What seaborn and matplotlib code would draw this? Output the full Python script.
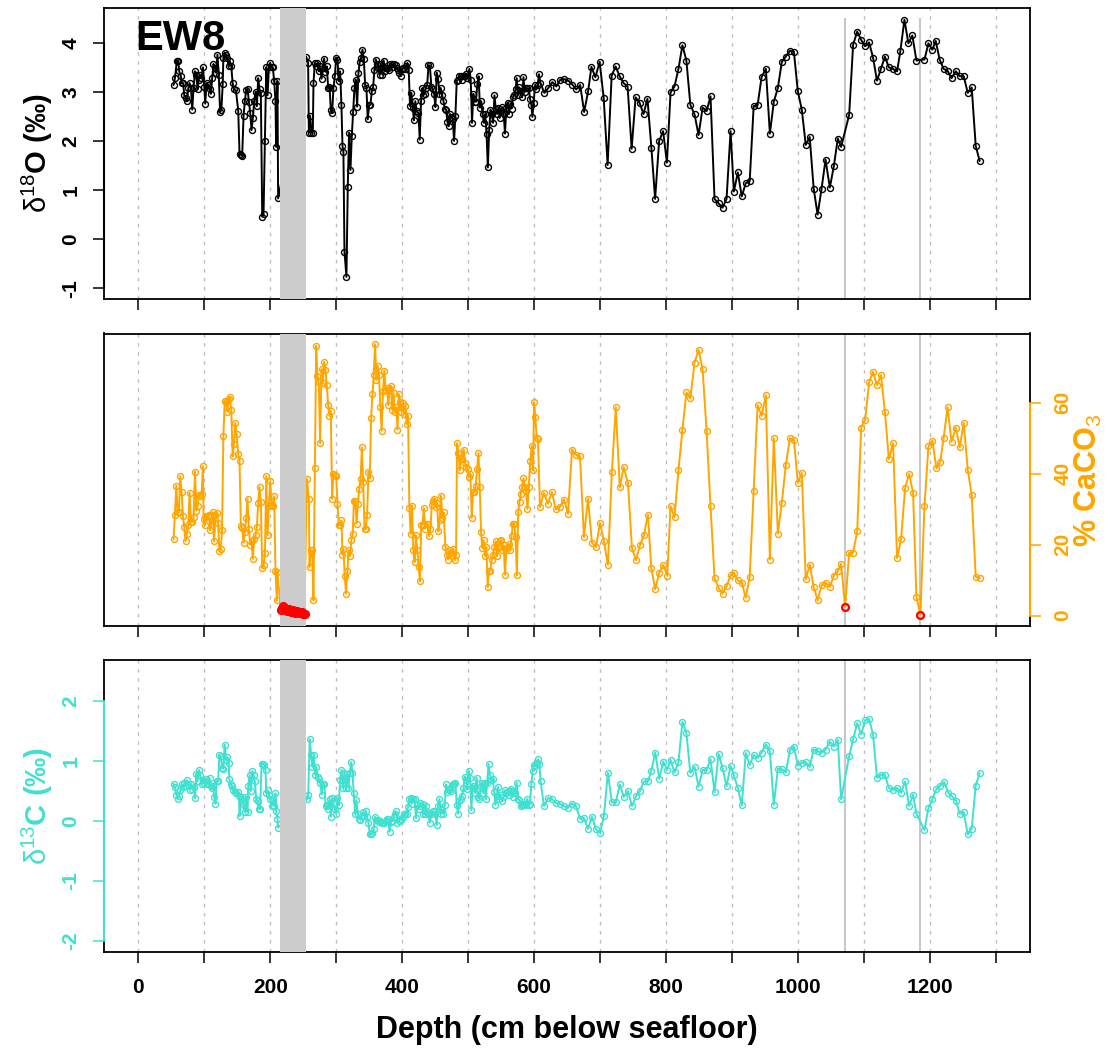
import matplotlib
matplotlib.use("Agg")
import matplotlib.pyplot as plt
import numpy as np
import seaborn as sns

# ---------------- data: core EW8 ----------------
d18o_depth = [
    53.5, 55.5, 58.6, 60.6, 62, 64.6, 65.7, 68, 69.7, 72.2, 73.7, 75.8, 77.8, 79.8, 81.8, 83.8,
    86, 88, 90, 91.4, 93.4, 95.4, 98, 100, 101.5, 103.5, 106, 108, 110, 112, 114, 116, 118, 120,
    122, 124, 126, 128, 129, 131, 133, 135, 137, 139, 141, 143, 145, 148, 151.5, 153.5, 155.5,
    157.5, 159.6, 161.6, 163.6, 165.6, 167.7, 169.7, 171.7, 173.7, 175.7, 177.8, 179.8, 181.8,
    183.8, 185.8, 187.9, 189.9, 192, 194, 196, 198, 200, 202, 204, 206, 208, 209, 211, 212,
    254.5, 257.5, 258.6, 260.6, 262.6, 264.6, 265.6, 267.7, 269.7, 271.7, 273.7, 275.7, 277.8,
    279.8, 281.8, 283.8, 285.8, 287.9, 289.9, 291.9, 293.9, 295.9, 298, 300, 302, 304, 306, 308,
    309.6, 311, 312.6, 315.6, 317.6, 319.6, 321.7, 323.7, 325.7, 327.7, 329.7, 331.8, 333.8,
    335.8, 337.8, 339.9, 341.9, 343.9, 345.9, 347.9, 350, 352, 354, 356, 358, 360, 362, 364, 366,
    368, 370, 372, 374, 376, 378, 380, 382, 384, 386, 388, 390, 392, 394, 396, 398, 400, 402, 404,
    406, 408, 410, 412, 414, 416, 418, 420, 422, 424.7, 426.7, 428.7, 430.8, 432, 434, 436, 438,
    440, 442, 444.4, 446.5, 448.5, 450.5, 452.5, 454.5, 456.6, 458.6, 460.6, 462.6, 464.7, 466.7,
    468.7, 470.7, 472.7, 474.8, 476.8, 478.8, 480.8, 482.8, 484.8, 486.9, 489, 491, 493, 495, 497,
    499, 502, 504, 506, 508, 510, 512, 514, 516, 518, 520, 522, 524, 526, 528, 530, 532, 534, 536,
    538, 540, 542, 544, 546, 548, 550, 552, 554, 556, 558, 560, 562, 564, 566, 568, 570, 572,
    573.7, 575.7, 577.8, 580, 582, 584, 586, 588, 590, 592, 594, 596, 597.5, 599.5, 601.5, 603.6,
    605.6, 607.6, 609.6, 615.7, 621.7, 627.8, 633.8, 639.9, 646, 652, 658, 664, 670, 676, 682,
    687, 693, 699.5, 705.6, 711.6, 717.7, 723.7, 729.8, 735.8, 741.9, 748, 754, 760, 766, 772,
    778, 783.6, 789.7, 795.7, 801.5, 807, 813, 819, 825, 831, 837, 843.4, 849.5, 855.6, 861.7,
    867.6, 873.7, 879.8, 885.8, 891.9, 898, 903, 909, 915, 921, 927, 933, 939, 945, 951.5, 957.6,
    963.6, 969.7, 975.7, 981.8, 988, 994, 1000, 1006, 1012, 1018, 1024, 1030, 1036, 1042, 1048.5,
    1054.5, 1060.6, 1065.6, 1077.8, 1083.8, 1090, 1096, 1102, 1108, 1114, 1120, 1126, 1132, 1138,
    1144, 1150.5, 1155.5, 1161.6, 1167.6, 1173.6, 1179.8, 1192, 1198, 1204, 1209, 1215, 1221,
    1227, 1233, 1239.5, 1245.4, 1251.5, 1257.6, 1263.6, 1269.7, 1275.7,
]
d18o = [
    3.14, 3.28, 3.64, 3.64, 3.42, 3.32, 3.18, 3.18, 2.93, 2.88, 2.81, 3.07, 3.18, 3.08, 2.64, 3.08,
    3.42, 3.35, 3.05, 3.25, 3.35, 3.28, 3.50, 3.11, 2.76, 3.18, 3.15, 3.05, 2.96, 3.28, 3.57, 3.49,
    3.39, 3.76, 3.35, 2.59, 2.64, 3.16, 3.70, 3.80, 3.76, 3.69, 3.52, 3.62, 3.52, 3.18, 3.05, 3.03,
    2.62, 1.73, 1.72, 1.70, 2.51, 2.82, 3.03, 3.06, 2.80, 2.57, 2.22, 2.46, 2.82, 3.00, 2.71, 3.28,
    3.05, 2.98, 0.46, 0.51, 1.99, 3.50, 2.93, 3.50, 3.59, 3.50, 3.50, 3.22, 2.82, 1.88, 3.22, 0.83,
    3.72, 3.59, 2.17, 2.51, 2.17, 2.17, 3.18, 3.59, 3.52, 3.59, 3.42, 3.52, 3.27, 3.49, 3.68, 3.41,
    3.52, 3.08, 3.11, 2.64, 2.57, 3.08, 3.32, 3.70, 3.66, 3.22, 3.42, 2.73, 1.90, 1.78, -0.26,
    -0.77, 1.07, 2.17, 1.41, 2.10, 2.59, 3.07, 3.25, 2.70, 3.39, 3.61, 3.70, 3.86, 3.68, 3.15,
    3.08, 2.44, 2.73, 2.74, 3.01, 3.09, 3.45, 3.66, 3.57, 3.49, 3.35, 3.57, 3.35, 3.64, 3.42, 3.49,
    3.49, 3.45, 3.57, 3.57, 3.50, 3.57, 3.54, 3.49, 3.45, 3.39, 3.32, 3.47, 3.49, 3.47, 3.52, 3.59,
    3.45, 2.71, 2.98, 2.68, 2.42, 2.81, 2.61, 2.57, 2.03, 2.81, 3.08, 2.93, 2.96, 3.08, 3.14, 3.54,
    3.54, 3.11, 3.05, 2.96, 2.69, 3.39, 3.27, 2.96, 3.08, 2.93, 2.82, 2.66, 2.64, 2.39, 2.30, 2.55,
    2.49, 2.44, 2.00, 2.51, 3.22, 3.25, 3.32, 3.32, 3.25, 3.32, 3.32, 3.36, 3.28, 3.47, 3.25, 2.37,
    2.96, 2.80, 2.80, 3.16, 3.32, 2.68, 2.81, 2.55, 2.37, 2.55, 2.15, 1.46, 2.22, 2.64, 2.54, 2.37,
    2.93, 2.66, 2.55, 2.68, 2.47, 2.61, 2.69, 2.55, 2.15, 2.68, 2.78, 2.55, 2.76, 2.66, 2.89, 2.93,
    3.05, 3.28, 2.93, 3.09, 3.01, 2.89, 3.30, 3.00, 3.08, 3.07, 3.07, 2.86, 2.74, 2.49, 2.78, 3.14,
    3.05, 3.14, 3.36, 3.18, 2.98, 3.08, 3.20, 3.11, 3.25, 3.26, 3.23, 3.15, 3.05, 3.14, 2.59, 3.01,
    3.51, 3.30, 3.61, 2.88, 1.51, 3.33, 3.52, 3.32, 3.18, 3.11, 1.84, 2.89, 2.78, 2.55, 2.86, 1.85,
    0.82, 2.00, 2.20, 1.56, 2.99, 3.11, 3.47, 3.95, 3.64, 2.74, 2.54, 2.12, 2.68, 2.61, 2.91, 0.82,
    0.73, 0.64, 0.82, 2.20, 0.97, 1.36, 0.87, 1.14, 1.18, 2.71, 2.73, 3.30, 3.47, 2.15, 2.80, 3.08,
    3.61, 3.72, 3.84, 3.82, 3.01, 2.64, 1.92, 2.08, 1.03, 0.50, 1.03, 1.62, 1.05, 1.48, 2.05, 1.88,
    2.53, 3.96, 4.23, 4.06, 3.93, 4.01, 3.70, 3.23, 3.47, 3.72, 3.50, 3.47, 3.42, 3.84, 4.47, 3.99,
    4.15, 3.64, 3.66, 3.99, 3.86, 4.04, 3.66, 3.47, 3.43, 3.28, 3.42, 3.32, 3.32, 2.98, 3.09, 1.90,
    1.59,
]

caco3_depth = [
    53.5, 55.5, 57.6, 59.6, 61.6, 63.6, 65.7, 67.7, 69.7, 71.7, 73.7, 75.8, 77.8, 79.8, 81.8, 83.8,
    86, 88, 90, 92, 94, 96, 98, 99, 101, 103, 105, 107, 109, 111, 113, 115, 117, 119, 121, 123,
    125, 127, 129, 131, 133, 135, 137, 139, 141, 143, 145, 147, 149, 151.5, 153.5, 155.5, 157.5,
    159.6, 161.6, 163.6, 165.6, 167.7, 169.7, 171.7, 173.7, 175.7, 177.8, 179.8, 181.8, 183.8,
    185.8, 187.9, 189.9, 192, 194, 196, 198, 200, 202, 204, 206, 208, 210, 211,
    216, 218, 220, 222, 224, 226, 228, 230, 232, 234, 236, 238, 240, 242, 244, 246, 248, 250, 252,
    255.5, 258.6, 259.6, 261.6, 263.6, 265.6, 267.7, 269.7, 271.7, 273.7, 275.7, 277.8, 279.8,
    281.8, 283.8, 285.8, 287.9, 289.9, 291.9, 293.9, 295.9, 298, 300, 302, 304, 306, 308, 309.6,
    311, 313, 315, 317, 319, 321, 323, 325, 327, 329, 331, 333, 335, 337, 339, 341, 343, 345, 347,
    349, 351, 353, 355, 357, 359, 361, 363, 365, 367, 369, 371, 373, 375, 377, 379, 381, 383, 385,
    387, 389, 391, 393, 395, 397, 399, 401, 403, 405, 407, 409, 411, 413, 415, 417, 419, 421, 423,
    425, 427, 429, 431, 433, 435, 437, 439, 441, 443, 445, 447, 449, 451, 453, 455, 457, 459, 461,
    463, 465.6, 467.7, 469.7, 471.7, 473.7, 475.8, 477.8, 479.8, 481.8, 483.3, 485.4, 487.4, 489.4,
    491.4, 493.4, 495.5, 497.5, 499.5, 501.5, 503.5, 505.6, 507.6, 509.6, 511.6, 513.6, 515.7,
    517.7, 519.7, 521.7, 523.7, 525.8, 527.8, 529.8, 531.8, 533.8, 535.9, 537.9, 540, 542, 544,
    546, 548, 550, 552, 554, 556, 558, 560, 562, 564, 566, 568, 570, 572, 574, 576, 578, 580, 582,
    584, 586, 588, 590, 592, 594.4, 596.5, 598.5, 600, 602, 604, 606, 609, 615, 621, 627, 633, 639,
    645.5, 651.5, 657.6, 663.6, 669.7, 675.7, 681.8, 687.9, 694, 700, 706, 712, 718, 724, 730, 736,
    742.4, 748.5, 754.5, 760.6, 766.6, 772.7, 777.8, 783.8, 789.9, 796, 802, 807, 813, 819, 825,
    831, 837, 843.4, 849.5, 855.6, 861.6, 867.6, 873.7, 879.8, 885.8, 891.9, 898, 903, 909, 915,
    921, 927, 933, 939, 945, 951.5, 957.6, 963.6, 969.7, 975.7, 981.8, 988, 994, 1000, 1006, 1012,
    1018, 1024, 1030, 1036, 1042, 1048.5, 1054.5, 1060.6, 1065.6, 1071.7, 1077.8, 1083.8, 1090,
    1096, 1102, 1108, 1114, 1120, 1126, 1132, 1138, 1144.4, 1150.5, 1156.5, 1162.6, 1168.7,
    1174.7, 1179.8, 1185.8, 1192, 1198, 1204, 1210, 1216, 1221, 1227, 1233, 1239.4, 1245.4,
    1251.5, 1257.6, 1263.6, 1269.7, 1275.7,
]
caco3 = [
    21.5, 28.4, 36.6, 29.3, 29.1, 39.3, 34.8, 28.0, 24.9, 20.9, 23.1, 25.6, 34.6, 26.5, 26.3, 27.7,
    40.6, 29.6, 31.0, 34.0, 33.8, 34.3, 42.1, 27.1, 25.4, 28.2, 28.0, 28.4, 24.0, 26.8, 29.1, 20.9,
    28.4, 29.0, 26.1, 18.1, 18.8, 24.0, 50.5, 60.5, 60.1, 57.5, 61.0, 61.5, 58.0, 44.9, 48.4, 54.3,
    51.2, 45.5, 43.7, 25.2, 24.6, 20.5, 23.5, 27.5, 32.9, 24.3, 20.0, 20.9, 16.0, 21.6, 22.6, 24.9,
    31.8, 36.2, 32.0, 13.4, 14.3, 17.7, 39.3, 22.6, 31.0, 37.8, 31.2, 31.0, 33.6, 12.5, 4.3, 12.3,
    1.5, 2.0, 2.6, 2.1, 1.6, 1.3, 1.9, 1.2, 1.0, 1.6, 1.1, 0.8, 1.4, 0.9, 0.6, 0.7, 1.0, 0.5, 0.4,
    38.5, 32.9, 13.7, 18.4, 18.4, 4.3, 41.5, 76.0, 67.6, 65.7, 48.6, 69.4, 65.5, 71.5, 69.3, 64.9,
    59.3, 56.3, 57.7, 32.9, 39.9, 39.5, 39.3, 31.5, 25.4, 25.6, 26.8, 17.2, 18.8, 11.2, 6.2, 12.7,
    18.4, 16.8, 21.2, 23.1, 32.4, 32.4, 25.9, 31.5, 35.7, 38.5, 47.4, 37.6, 24.3, 24.3, 28.4, 40.6,
    38.7, 55.6, 62.4, 67.8, 76.5, 66.4, 70.4, 67.8, 58.7, 52.1, 63.4, 69.0, 63.6, 64.0, 59.3, 63.8,
    64.8, 58.0, 62.7, 57.3, 58.7, 52.4, 62.4, 60.3, 57.5, 59.9, 56.8, 59.0, 54.0, 56.3, 30.3, 23.1,
    31.0, 18.4, 15.1, 22.6, 18.4, 13.7, 9.7, 25.6, 25.6, 30.3, 24.5, 25.9, 25.9, 22.4, 24.5, 31.2,
    32.4, 32.9, 30.6, 31.8, 23.7, 26.8, 33.8, 27.5, 29.1, 19.3, 17.2, 15.8, 18.4, 17.7, 17.0, 18.8,
    15.6, 17.2, 48.6, 45.8, 40.9, 44.3, 44.1, 46.8, 43.0, 41.8, 41.3, 39.0, 39.9, 27.5, 34.8, 34.8,
    36.6, 41.3, 45.8, 36.2, 23.5, 19.0, 21.2, 16.8, 19.3, 8.1, 12.5, 12.7, 15.6, 17.2, 19.3, 20.9,
    16.8, 19.0, 20.9, 21.2, 18.4, 19.8, 11.5, 18.4, 19.3, 20.2, 18.4, 22.4, 25.9, 25.9, 22.1, 11.3,
    29.1, 32.0, 34.3, 36.2, 38.7, 36.2, 35.0, 30.1, 36.2, 43.7, 47.7, 40.9, 60.1, 56.1, 50.0, 49.8,
    30.6, 34.6, 31.5, 34.8, 29.9, 30.6, 32.7, 28.7, 46.8, 45.3, 44.9, 22.1, 32.9, 20.5, 19.3, 26.1,
    20.9, 14.3, 40.4, 58.7, 36.2, 41.8, 37.4, 19.0, 15.6, 19.8, 22.6, 28.4, 13.4, 7.4, 12.1, 14.3,
    11.2, 30.8, 27.7, 40.9, 52.4, 62.9, 61.2, 71.3, 74.9, 69.4, 52.1, 30.8, 10.6, 7.8, 6.2, 8.3,
    11.3, 12.1, 9.9, 9.3, 5.0, 10.9, 35.2, 59.3, 56.3, 62.1, 15.8, 50.0, 23.1, 31.8, 42.5, 50.0,
    49.6, 37.4, 40.2, 10.2, 14.3, 8.1, 4.3, 8.5, 9.3, 8.1, 11.2, 12.5, 14.6, 2.4, 17.7, 17.7, 23.7,
    53.0, 55.2, 65.7, 68.7, 64.9, 67.8, 57.5, 44.1, 48.6, 16.2, 21.5, 35.9, 39.9, 34.6, 5.2, 0.3,
    30.8, 47.7, 49.3, 41.5, 43.4, 50.0, 58.7, 49.0, 53.0, 47.4, 54.3, 41.1, 34.0, 10.9, 10.6,
]

d13c_depth = [
    53.5, 55.5, 57.6, 59.6, 61.6, 63.6, 65.7, 67.7, 69.7, 71.7, 73.7, 75.8, 77.8, 79.8, 81.8, 83.8,
    86, 88, 90, 92, 94, 96, 98, 100, 102, 104, 106, 108, 110, 112, 114, 115, 117, 119, 121, 123,
    125, 127, 129, 131, 133, 135, 137, 138, 140, 142, 144, 146, 148, 150.5, 152.5, 153.5, 155.5,
    157.5, 159.6, 161.6, 163.6, 165.6, 166.7, 168.7, 170.7, 172.7, 174.7, 176.8, 178.8, 180.8,
    182.8, 184.8, 186.9, 188.9, 190.9, 192.9, 194, 196, 198, 200, 202, 204, 206, 208, 209, 211, 212,
    255.5, 257.6, 260, 262, 264, 266, 268, 270, 272, 274, 276, 278, 280, 282, 284, 286, 288, 290,
    292, 294, 296, 298, 300, 302, 304, 306, 308, 310, 312.6, 314.6, 316.6, 318.7, 320.7, 322.7,
    324.7, 326.7, 328.8, 330.8, 332.8, 334.8, 336.8, 338.8, 340.9, 342.9, 344.9, 346.9, 348.9, 351,
    353, 355, 357, 359, 361, 363, 365, 367, 369, 371, 373, 375, 377, 379, 381, 383, 385, 387, 389,
    391, 393, 395, 397, 399, 401, 403, 405, 407, 409, 411, 413, 415, 417, 419, 421, 423, 425, 427,
    429, 431, 432, 434, 436, 438, 440, 442, 444.5, 446.5, 448.5, 450.5, 452.5, 454.5, 456.6, 458.6,
    460.6, 462.6, 464.7, 466.7, 468.7, 470.7, 472.7, 474.8, 476.8, 478.8, 480.8, 482.8, 484.8,
    486.9, 489, 491, 493, 495, 497, 499, 501, 503, 505, 507, 509, 511, 513, 515, 517, 519, 521, 523,
    525, 527, 529, 531, 533, 535.5, 537.5, 539.5, 541.5, 543.5, 545.5, 547.5, 549.5, 551.6, 553.6,
    555.6, 557.6, 559.6, 561.6, 563.6, 565.7, 567.7, 569.7, 571.7, 573.7, 575.8, 577.8, 579.8,
    581.8, 583.8, 585.9, 587.9, 589.9, 591.9, 593.9, 596, 598, 600, 602, 604, 606, 608, 610, 615,
    621, 627, 633, 639, 645.4, 651.5, 657.6, 663.6, 669.7, 675.7, 681.8, 687.9, 694, 700, 706, 712,
    718, 724, 730, 736, 742.4, 748.5, 754.5, 760.6, 766.6, 772.7, 777.8, 783.8, 789.9, 796, 802,
    807, 813, 819, 825, 831, 837, 843.4, 849.5, 855.6, 861.6, 867.6, 873.7, 879.8, 885.8, 891.9,
    898, 903, 909, 915, 921, 927, 933, 939, 945, 951.5, 957.6, 963.6, 969.7, 975.7, 981.8, 988, 994,
    1000, 1006, 1012, 1018, 1024, 1030, 1036, 1042, 1048.5, 1054.5, 1060.6, 1065.6, 1077.8, 1083.8,
    1090, 1096, 1102, 1108, 1114, 1120, 1126, 1132, 1138, 1144.4, 1150.5, 1156.5, 1162.6, 1168.7,
    1174.7, 1179.8, 1192, 1198, 1204, 1210, 1216, 1222, 1228, 1234, 1240, 1245.4, 1251.5, 1257.6,
    1263.6, 1269.7, 1275.7,
]
d13c = [
    0.62, 0.57, 0.44, 0.37, 0.41, 0.51, 0.61, 0.57, 0.63, 0.59, 0.68, 0.62, 0.52, 0.61, 0.53, 0.57,
    0.38, 0.79, 0.66, 0.85, 0.76, 0.61, 0.69, 0.63, 0.70, 0.62, 0.61, 0.72, 0.58, 0.55, 0.59, 0.40,
    0.29, 0.66, 0.66, 1.10, 1.08, 0.88, 0.87, 1.27, 1.02, 1.06, 0.97, 0.70, 0.61, 0.59, 0.51, 0.48,
    0.46, 0.48, 0.41, 0.08, 0.36, 0.40, 0.26, 0.15, 0.40, 0.15, 0.58, 0.76, 0.50, 0.83, 0.76, 0.66,
    0.36, 0.33, 0.20, 0.20, 0.95, 0.95, 0.94, 0.85, 0.46, 0.51, 0.44, 0.36, 0.25, 0.33, 0.25, 0.46,
    0.16, 0.04, -0.11,
    0.36, 0.44, 1.36, 1.10, 0.90, 1.10, 0.77, 0.90, 0.73, 0.70, 0.63, 0.44, 0.62, 0.62, 0.25, 0.26,
    0.20, 0.36, 0.07, 0.38, 0.29, 0.20, 0.12, 0.38, 0.26, 0.69, 0.85, 0.55, 0.80, 0.55, 0.79, 0.55,
    0.80, 0.98, 0.80, 0.46, 0.11, 0.35, 0.11, 0.04, 0.02, 0.09, 0.15, 0.08, 0.16, 0.07, -0.03,
    -0.21, -0.22, -0.20, -0.13, 0.07, 0.02, 0.02, -0.02, 0.00, -0.04, -0.03, -0.04, 0.00, 0.04,
    0.04, -0.18, -0.02, 0.00, 0.07, 0.12, 0.16, -0.03, 0.00, 0.04, 0.02, 0.07, 0.11, 0.12, 0.12,
    0.24, 0.36, 0.38, 0.29, 0.37, 0.37, 0.05, 0.26, 0.20, 0.30, 0.25, 0.29, 0.12, 0.11, 0.25, 0.15,
    0.12, -0.03, 0.12, 0.16, 0.15, 0.12, -0.07, 0.25, 0.37, 0.12, 0.19, 0.12, 0.27, 0.61, 0.48,
    0.51, 0.53, 0.50, 0.61, 0.62, 0.64, 0.26, 0.12, 0.33, 0.36, 0.42, 0.55, 0.74, 0.69, 0.53, 0.83,
    0.72, 0.18, 0.58, 0.59, 0.46, 0.72, 0.40, 0.37, 0.58, 0.64, 0.46, 0.64, 0.36, 0.64, 0.95, 0.77,
    0.68, 0.70, 0.48, 0.27, 0.41, 0.57, 0.36, 0.44, 0.33, 0.40, 0.51, 0.46, 0.48, 0.44, 0.50, 0.53,
    0.40, 0.50, 0.46, 0.64, 0.36, 0.35, 0.25, 0.26, 0.29, 0.26, 0.29, 0.37, 0.27, 0.29, 0.61, 0.83,
    0.94, 0.91, 0.97, 1.03, 0.95, 0.66, 0.25, 0.38, 0.37, 0.30, 0.29, 0.25, 0.22, 0.29, 0.25, 0.04,
    0.05, -0.13, 0.07, -0.14, -0.20, 0.09, 0.80, 0.31, 0.31, 0.61, 0.40, 0.50, 0.25, 0.41, 0.50,
    0.66, 0.66, 0.83, 1.14, 0.70, 0.99, 0.85, 1.02, 0.81, 0.98, 1.65, 1.47, 0.80, 0.90, 0.57, 0.85,
    0.85, 1.03, 0.48, 1.12, 0.88, 0.58, 0.92, 0.76, 0.55, 0.26, 1.13, 0.93, 1.10, 1.05, 1.14, 1.27,
    1.16, 0.27, 0.87, 0.86, 0.81, 1.18, 1.24, 0.92, 0.97, 0.98, 0.90, 1.19, 1.16, 1.14, 1.19, 1.32,
    1.24, 1.35, 0.36, 1.08, 1.36, 1.63, 1.44, 1.68, 1.70, 1.44, 0.72, 0.77, 0.77, 0.55, 0.52, 0.55,
    0.47, 0.66, 0.25, 0.44, 0.12, -0.15, 0.22, 0.36, 0.53, 0.59, 0.65, 0.47, 0.41, 0.33, 0.12,
    0.15, -0.22, -0.13, 0.59, 0.80,
]

gap_interval = (215, 254.5)          # unrecovered / disturbed section
barren_depths = [1071.7, 1185.8]     # carbonate-free horizons
depth_ticks = list(range(0, 1301, 100))

ORANGE = "#FFA500"
TURQ = "#40E0D0"
XLIM = (-52, 1352)

# ---------------- style ----------------
sns.set_theme(style="white")
plt.rcParams["font.family"] = ["Liberation Sans", "DejaVu Sans"]
plt.rcParams["text.color"] = "black"
plt.rcParams["axes.labelcolor"] = "black"
plt.rcParams["xtick.color"] = "black"
plt.rcParams["ytick.color"] = "black"
plt.rcParams["mathtext.fontset"] = "custom"
plt.rcParams["mathtext.rm"] = "Liberation Sans"
plt.rcParams["mathtext.it"] = "Liberation Sans:italic"
plt.rcParams["mathtext.bf"] = "Liberation Sans:bold"
plt.rcParams["mathtext.default"] = "rm"

W, H = 1112, 1048
fig = plt.figure(figsize=(W / 100, H / 100), dpi=100)


def box(top, bottom, left=104, right=1030):
    return [left / W, 1 - bottom / H, (right - left) / W, (bottom - top) / H]


ax1 = fig.add_axes(box(7.5, 299))
ax2 = fig.add_axes(box(333.5, 625.5))
ax3 = fig.add_axes(box(660, 952))

TICK_FS = 15


def frame(ax, ylim, vline_top=None):
    ax.set_xlim(*XLIM)
    ax.set_ylim(*ylim)
    ax.set_facecolor("white")
    ax.grid(False)
    for s in ax.spines.values():
        s.set_visible(True)
        s.set_color("black")
        s.set_linewidth(1.3)
    for d in depth_ticks:
        ax.axvline(d, color="#bdbdbd", lw=1.0, ls=(0, (2.5, 4)), zorder=1)
    top = ylim[1] if vline_top is None else vline_top
    ax.vlines(barren_depths, ylim[0], top, color="#c8c8c8", lw=1.5, zorder=1.5)
    ax.axvspan(*gap_interval, color="#cccccc", lw=0, zorder=3)
    ax.set_xticks(depth_ticks)
    ax.tick_params(axis="x", bottom=True, direction="out", length=8, width=1.1,
                   color="black", labelcolor="black", pad=11, labelsize=TICK_FS)
    ax.set_xlabel("")
    ax.set_ylabel("")


def yaxis_style(ax, ticks, color, side="left"):
    ax.set_yticks(ticks)
    ax.set_yticklabels([f"{t:g}" for t in ticks])
    if side == "left":
        ax.tick_params(axis="y", left=True, right=False, labelleft=True, labelright=False)
    else:
        ax.yaxis.tick_right()
        ax.tick_params(axis="y", left=False, right=True, labelleft=False, labelright=True)
    ax.tick_params(axis="y", direction="out", length=8, width=1.1, color=color,
                   labelcolor=color, labelsize=TICK_FS, pad=9, labelrotation=90)
    for lbl in ax.get_yticklabels():
        lbl.set_fontweight("bold")
        lbl.set_va("center")
    # coloured axis line covering the tick range
    x = 0 if side == "left" else 1
    ax.plot([x, x], [ticks[0], ticks[-1]], transform=ax.get_yaxis_transform(),
            color=color, lw=1.5, clip_on=False, zorder=6)


line_kw = dict(marker="o", markersize=4.3, mfc="none", mew=1.0, lw=1.4,
               sort=False, estimator=None, zorder=2)

# ---- panel 1: benthic d18O ----
frame(ax1, (-1.22, 4.72), vline_top=4.5)
sns.lineplot(x=d18o_depth, y=d18o, ax=ax1, color="black", mec="black", **line_kw)
yaxis_style(ax1, [-1, 0, 1, 2, 3, 4], "black")
ax1.tick_params(axis="x", labelbottom=False)
ax1.text(-4, 3.86, "EW8", fontsize=30, fontweight="bold", color="black",
         ha="left", va="baseline", zorder=7)

# ---- panel 2: carbonate content ----
frame(ax2, (-2.8, 79.5))
sns.lineplot(x=caco3_depth, y=caco3, ax=ax2, color=ORANGE, mec=ORANGE, **line_kw)
cd = np.array(caco3_depth)
cv = np.array(caco3)
low = cv < 3
sns.lineplot(x=cd[low], y=cv[low], ax=ax2, color="red", linestyle="", marker="o",
             markersize=5.0, mfc="none", mec="red", mew=1.6, sort=False,
             estimator=None, zorder=4)
yaxis_style(ax2, [0, 20, 40, 60], ORANGE, side="right")
ax2.tick_params(axis="x", labelbottom=False)

# ---- panel 3: benthic d13C ----
frame(ax3, (-2.18, 2.68))
sns.lineplot(x=d13c_depth, y=d13c, ax=ax3, color=TURQ, mec=TURQ, **line_kw)
yaxis_style(ax3, [-2, -1, 0, 1, 2], TURQ)
ax3.set_xticklabels([str(d) if d % 200 == 0 else "" for d in depth_ticks],
                    fontweight="bold", color="black")

for ax in (ax1, ax2, ax3):
    if ax.get_legend() is not None:
        ax.get_legend().remove()

# ---- axis titles ----
fig.text(37 / W, 1 - 153 / H, r"$\delta^{18}$O (‰)", rotation=90, ha="center",
         va="center", fontsize=21, fontweight="bold", color="black")
fig.text(37 / W, 1 - 806 / H, r"$\delta^{13}$C (‰)", rotation=90, ha="center",
         va="center", fontsize=21, fontweight="bold", color=TURQ)
fig.text(1088 / W, 1 - 480 / H, r"% CaCO$_3$", rotation=90, ha="center",
         va="center", fontsize=22, fontweight="bold", color=ORANGE)
fig.text(567 / W, 1 - 1030 / H, "Depth (cm below seafloor)", ha="center",
         va="center", fontsize=22, fontweight="bold", color="black")

fig.savefig("out.png", dpi=100, facecolor="white")
